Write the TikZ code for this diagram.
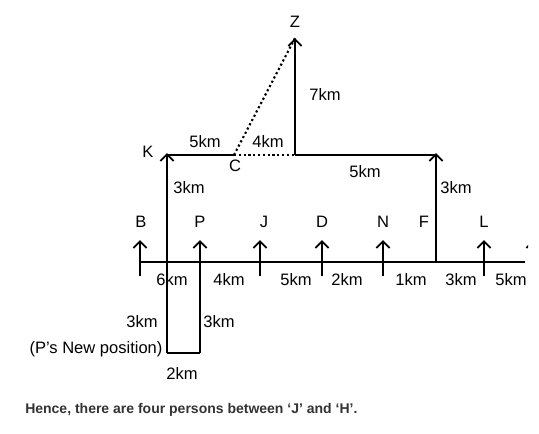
\documentclass[tikz,border=0pt]{standalone}
\usepackage{fontspec}
\setmainfont{Liberation Sans}
\usetikzlibrary{arrows.meta}
\tikzset{
	path/.style={line width=1.4pt},
	walk/.style={path,-{Straight Barb[length=5pt,width=10pt,line width=1.4pt]}},
	trail/.style={line width=1.6pt,dotted},
	lbl/.style={inner sep=0pt,font=\fontsize{12.4}{14}\selectfont}
}
\begin{document}
\begin{tikzpicture}[x=0.75pt,y=-0.75pt]
			\useasboundingbox[fill=white] (0,0) rectangle (539,433);
			% corners of the route
			\coordinate (row0) at (140,262);
			\coordinate (row1) at (525,262);
			\coordinate (kfoot) at (167,353);
			\coordinate (k) at (167,153);
			\coordinate (ktop) at (167,155);
			\coordinate (c) at (234,155);
			\coordinate (zfoot) at (295,155);
			\coordinate (z) at (295,38);
			\coordinate (ftop) at (436,155);
			\coordinate (fbase) at (436,262);
			\coordinate (f) at (436,153);
			\coordinate (pfoot) at (200,353);
			\coordinate (p) at (200,240);
			% the row
			\draw[path] (row0) -- (row1);
			\draw[walk] (kfoot) -- (k);
			\draw[path] (kfoot) -- (pfoot);
			\draw[walk] (pfoot) -- (p);
			\draw[path] (ktop) -- (c);
			\draw[trail] (c) -- (zfoot);
			\draw[path] (zfoot) -- (ftop);
			\draw[walk] (zfoot) -- (z);
			\draw[trail] (c) -- (z);
			\draw[walk] (fbase) -- (f);
			% persons facing north
			\foreach \name/\x in {b/140,j/260,d/322,n/383,l/484}{
				\coordinate (\name0) at (\x,276);
				\coordinate (\name1) at (\x,240);
				\draw[walk] (\name0) -- (\name1);
			}
			\begin{scope}
				\clip (0,0) rectangle (528,433);
				\coordinate (h0) at (533,276);
				\coordinate (h1) at (533,240);
				\draw[walk] (h0) -- (h1);
			\end{scope}
			% names
			\node[lbl] (nz) at (295,22) {Z};
			\node[lbl] (nk) at (148,152) {K};
			\node[lbl] (nc) at (235,166) {C};
			\node[lbl] (nb) at (141,222) {B};
			\node[lbl] (np) at (200,222) {P};
			\node[lbl] (nj) at (264,222) {J};
			\node[lbl] (nd) at (322,222) {D};
			\node[lbl] (nn) at (383,222) {N};
			\node[lbl] (nf) at (424,222) {F};
			\node[lbl] (nl) at (484,222) {L};
			% distances
			\node[lbl] (d7) at (325,95) {7km};
			\node[lbl] (d5a) at (205,142) {5km};
			\node[lbl] (d4a) at (268,142) {4km};
			\node[lbl] (d3a) at (189,188) {3km};
			\node[lbl] (d5b) at (365,172) {5km};
			\node[lbl] (d3b) at (456,188) {3km};
			\node[lbl] (d6) at (172,280) {6km};
			\node[lbl] (d4b) at (229,280) {4km};
			\node[lbl] (d5c) at (296,280) {5km};
			\node[lbl] (d2a) at (347,280) {2km};
			\node[lbl] (d1) at (411,280) {1km};
			\node[lbl] (d3c) at (461,280) {3km};
			\node[lbl] (d5d) at (511,280) {5km};
			\node[lbl] (d3d) at (142,322) {3km};
			\node[lbl] (d3e) at (219,322) {3km};
			\node[lbl] (d2b) at (182,374) {2km};
			\node[lbl] (newp) at (96,349) {(P’s New position)};
			\node[inner sep=0pt,anchor=west,text=black!80,font=\fontsize{10.5}{12}\selectfont\bfseries] (hence) at (25,410) {Hence, there are four persons between ‘J’ and ‘H’.};
\end{tikzpicture}
\end{document}
